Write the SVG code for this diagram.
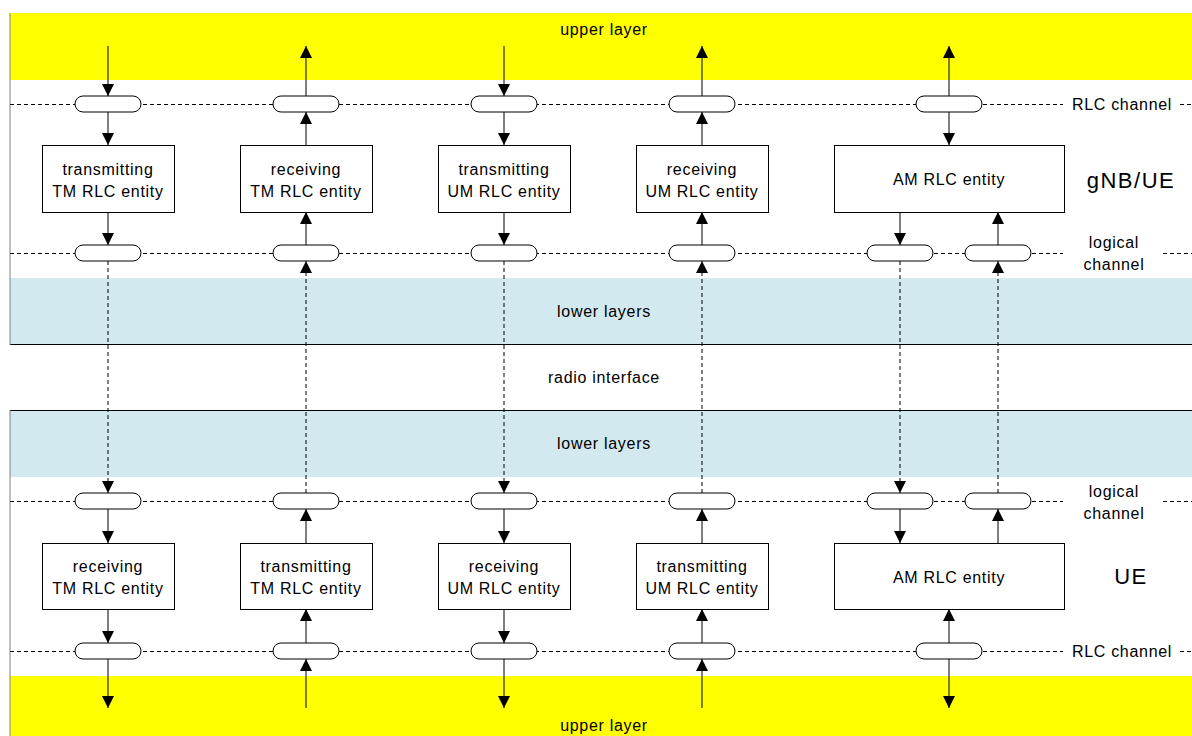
<svg xmlns="http://www.w3.org/2000/svg" width="1192" height="736" viewBox="0 0 1192 736">
<style>
text{font-family:"Liberation Sans",Arial,sans-serif;font-size:16px;fill:#000;text-anchor:middle;letter-spacing:0.7px}
.big{font-size:22px;letter-spacing:1.5px}
.box{fill:#fff;stroke:#000;stroke-width:1}
.pill{fill:#fff;stroke:#000;stroke-width:1}
.hd{stroke:#000;stroke-width:1;stroke-dasharray:4 3;fill:none}
.c{stroke:#000;stroke-width:1;fill:none;marker-end:url(#ah)}
.cd{stroke:#000;stroke-width:1;fill:none;stroke-dasharray:4 3;marker-end:url(#ah)}
</style>
<defs>
<marker id="ah" markerUnits="userSpaceOnUse" markerWidth="12" markerHeight="12" viewBox="0 0 12 12" refX="12" refY="6" orient="auto">
<path d="M0,0 L12,6 L0,12 z" fill="#000"/>
</marker>
</defs>
<rect width="1192" height="736" fill="#fff"/>
<g id="bands">
<rect x="10" y="13" width="1182" height="67" fill="#ffff00"/>
<rect x="10" y="278" width="1182" height="66" fill="#d2e9ef"/>
<rect x="10" y="410" width="1182" height="67" fill="#d2e9ef"/>
<rect x="10" y="676" width="1182" height="60" fill="#ffff00"/>
<line x1="10" y1="344.5" x2="1192" y2="344.5" stroke="#000"/>
<line x1="10" y1="410.5" x2="1192" y2="410.5" stroke="#000"/>
<line x1="10" y1="13" x2="10" y2="345" stroke="#808080"/>
<line x1="10" y1="410" x2="10" y2="736" stroke="#808080"/>
</g>
<g id="channel-lines">
<path class="hd" d="M10,104.5H1063M1180,104.5H1192"/>
<path class="hd" d="M10,253.5H1063M1163,253.5H1192"/>
<path class="hd" d="M10,501.5H1063M1163,501.5H1192"/>
<path class="hd" d="M10,651.5H1063M1180,651.5H1192"/>
</g>
<g id="connectors">
<!-- column 1 down -->
<line class="c" x1="108" y1="46" x2="108" y2="96"/>
<line class="c" x1="108" y1="112" x2="108" y2="145"/>
<line class="c" x1="108" y1="212" x2="108" y2="245"/>
<line class="cd" x1="108" y1="261" x2="108" y2="493"/>
<line class="c" x1="108" y1="509" x2="108" y2="543"/>
<line class="c" x1="108" y1="609" x2="108" y2="643"/>
<line class="c" x1="108" y1="659" x2="108" y2="708"/>
<!-- column 2 up -->
<line class="c" x1="306" y1="708" x2="306" y2="659"/>
<line class="c" x1="306" y1="643" x2="306" y2="609"/>
<line class="c" x1="306" y1="543" x2="306" y2="509"/>
<line class="cd" x1="306" y1="493" x2="306" y2="261"/>
<line class="c" x1="306" y1="245" x2="306" y2="212"/>
<line class="c" x1="306" y1="145" x2="306" y2="112"/>
<line class="c" x1="306" y1="96" x2="306" y2="46"/>
<!-- column 3 down -->
<line class="c" x1="504" y1="46" x2="504" y2="96"/>
<line class="c" x1="504" y1="112" x2="504" y2="145"/>
<line class="c" x1="504" y1="212" x2="504" y2="245"/>
<line class="cd" x1="504" y1="261" x2="504" y2="493"/>
<line class="c" x1="504" y1="509" x2="504" y2="543"/>
<line class="c" x1="504" y1="609" x2="504" y2="643"/>
<line class="c" x1="504" y1="659" x2="504" y2="708"/>
<!-- column 4 up -->
<line class="c" x1="702" y1="708" x2="702" y2="659"/>
<line class="c" x1="702" y1="643" x2="702" y2="609"/>
<line class="c" x1="702" y1="543" x2="702" y2="509"/>
<line class="cd" x1="702" y1="493" x2="702" y2="261"/>
<line class="c" x1="702" y1="245" x2="702" y2="212"/>
<line class="c" x1="702" y1="145" x2="702" y2="112"/>
<line class="c" x1="702" y1="96" x2="702" y2="46"/>
<!-- AM -->
<line class="c" x1="949" y1="96" x2="949" y2="46"/>
<line class="c" x1="949" y1="112" x2="949" y2="145"/>
<line class="c" x1="900" y1="212" x2="900" y2="245"/>
<line class="cd" x1="900" y1="261" x2="900" y2="493"/>
<line class="c" x1="900" y1="509" x2="900" y2="543"/>
<line class="c" x1="998" y1="543" x2="998" y2="509"/>
<line class="cd" x1="998" y1="493" x2="998" y2="261"/>
<line class="c" x1="998" y1="245" x2="998" y2="212"/>
<line class="c" x1="949" y1="643" x2="949" y2="609"/>
<line class="c" x1="949" y1="659" x2="949" y2="708"/>
</g>
<g id="pills">
<rect class="pill" x="75" y="96" width="66" height="16" rx="8"/>
<rect class="pill" x="273" y="96" width="66" height="16" rx="8"/>
<rect class="pill" x="471" y="96" width="66" height="16" rx="8"/>
<rect class="pill" x="669" y="96" width="66" height="16" rx="8"/>
<rect class="pill" x="916" y="96" width="66" height="16" rx="8"/>
<rect class="pill" x="75" y="245" width="66" height="16" rx="8"/>
<rect class="pill" x="273" y="245" width="66" height="16" rx="8"/>
<rect class="pill" x="471" y="245" width="66" height="16" rx="8"/>
<rect class="pill" x="669" y="245" width="66" height="16" rx="8"/>
<rect class="pill" x="867" y="245" width="66" height="16" rx="8"/>
<rect class="pill" x="965" y="245" width="66" height="16" rx="8"/>
<rect class="pill" x="75" y="493" width="66" height="16" rx="8"/>
<rect class="pill" x="273" y="493" width="66" height="16" rx="8"/>
<rect class="pill" x="471" y="493" width="66" height="16" rx="8"/>
<rect class="pill" x="669" y="493" width="66" height="16" rx="8"/>
<rect class="pill" x="867" y="493" width="66" height="16" rx="8"/>
<rect class="pill" x="965" y="493" width="66" height="16" rx="8"/>
<rect class="pill" x="75" y="643" width="66" height="16" rx="8"/>
<rect class="pill" x="273" y="643" width="66" height="16" rx="8"/>
<rect class="pill" x="471" y="643" width="66" height="16" rx="8"/>
<rect class="pill" x="669" y="643" width="66" height="16" rx="8"/>
<rect class="pill" x="916" y="643" width="66" height="16" rx="8"/>
</g>
<g id="node-top-tx-tm"><rect class="box" x="42.5" y="145.5" width="132" height="67"/><text x="108" y="175">transmitting</text><text x="108" y="197">TM RLC entity</text></g>
<g id="node-top-rx-tm"><rect class="box" x="240.5" y="145.5" width="132" height="67"/><text x="306" y="175">receiving</text><text x="306" y="197">TM RLC entity</text></g>
<g id="node-top-tx-um"><rect class="box" x="438.5" y="145.5" width="132" height="67"/><text x="504" y="175">transmitting</text><text x="504" y="197">UM RLC entity</text></g>
<g id="node-top-rx-um"><rect class="box" x="636.5" y="145.5" width="132" height="67"/><text x="702" y="175">receiving</text><text x="702" y="197">UM RLC entity</text></g>
<g id="node-top-am"><rect class="box" x="834.5" y="145.5" width="230" height="67"/><text x="949" y="185">AM RLC entity</text></g>
<g id="node-bot-rx-tm"><rect class="box" x="42.5" y="543.5" width="132" height="66"/><text x="108" y="572">receiving</text><text x="108" y="594">TM RLC entity</text></g>
<g id="node-bot-tx-tm"><rect class="box" x="240.5" y="543.5" width="132" height="66"/><text x="306" y="572">transmitting</text><text x="306" y="594">TM RLC entity</text></g>
<g id="node-bot-rx-um"><rect class="box" x="438.5" y="543.5" width="132" height="66"/><text x="504" y="572">receiving</text><text x="504" y="594">UM RLC entity</text></g>
<g id="node-bot-tx-um"><rect class="box" x="636.5" y="543.5" width="132" height="66"/><text x="702" y="572">transmitting</text><text x="702" y="594">UM RLC entity</text></g>
<g id="node-bot-am"><rect class="box" x="834.5" y="543.5" width="230" height="66"/><text x="949" y="583">AM RLC entity</text></g>
<g id="labels">
<text x="604" y="35">upper layer</text>
<text x="604" y="317">lower layers</text>
<text x="604" y="383">radio interface</text>
<text x="604" y="449">lower layers</text>
<text x="604" y="731">upper layer</text>
<text x="1122" y="110">RLC channel</text>
<text x="1114" y="248">logical</text>
<text x="1114" y="270">channel</text>
<text x="1114" y="497">logical</text>
<text x="1114" y="519">channel</text>
<text x="1122" y="657">RLC channel</text>
<text class="big" x="1131" y="188">gNB/UE</text>
<text class="big" x="1131" y="584">UE</text>
</g>
</svg>
